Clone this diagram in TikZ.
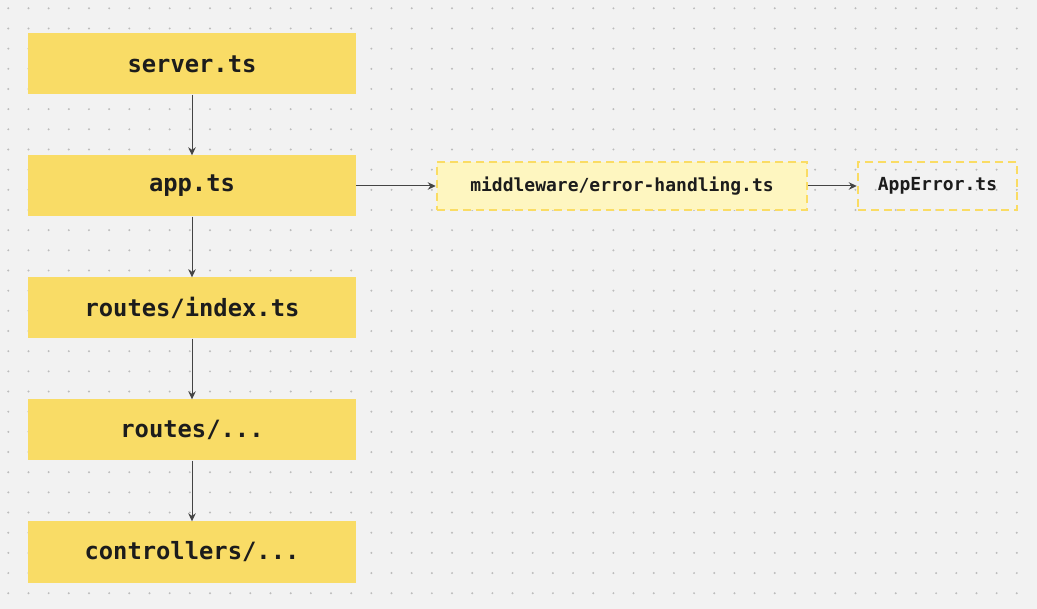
\documentclass[tikz,border=0pt]{standalone}
\usepackage{fontspec}
\setmonofont{DejaVu Sans Mono}
\usetikzlibrary{arrows.meta}
\definecolor{bgc}{RGB}{242,242,242}
\definecolor{dotc}{RGB}{188,188,188}
\definecolor{boxc}{RGB}{249,220,102}
\definecolor{lightc}{RGB}{254,246,192}
\definecolor{dashc}{RGB}{250,220,100}
\definecolor{linec}{RGB}{68,68,68}
\definecolor{txtc}{RGB}{28,28,28}
\tikzset{
  filebox/.style={fill=boxc, draw=none, minimum width=328pt, minimum height=61pt, inner sep=0pt,
    font=\fontsize{23.8}{28}\selectfont\ttfamily\bfseries, text=txtc},
  dashbox/.style={draw=dashc, line width=2.5pt, dash pattern=on 8pt off 5pt, minimum height=48pt, inner sep=0pt,
    font=\fontsize{18}{22}\selectfont\ttfamily\bfseries, text=txtc},
  conn/.style={draw=linec, line width=1pt, -{Stealth[length=8pt,width=7.5pt]}}
}
\begin{document}
\begin{tikzpicture}[x=1pt,y=-1pt]
\fill[bgc] (0,0) rectangle (1037,609);
\useasboundingbox (0,0) rectangle (1037,609);
\foreach \i in {0,...,50} {
  \foreach \j in {0,...,29} {
    \fill[dotc] ({8.3+20.17*\i},{8.3+20.17*\j}) circle (1.1pt);
  }
}
\node[filebox] (server) at (192,64) {\raisebox{-1.5pt}{server.ts}};
\node[filebox] (app) at (192,186) {\raisebox{-1.5pt}{app.ts}};
\node[filebox] (index) at (192,308) {\raisebox{-1.5pt}{routes/index.ts}};
\node[filebox] (routes) at (192,430) {\raisebox{-1.5pt}{routes/...}};
\node[filebox] (ctrl) at (192,552) {\raisebox{-1.5pt}{controllers/...}};
\node[dashbox, fill=lightc, minimum width=370pt] (mw) at (622,186) {\raisebox{-1pt}{middleware/error-handling.ts}};
\node[dashbox, minimum width=159pt] (err) at (937.5,186) {\raisebox{-1pt}{AppError.ts}};
\draw[conn] (server) -- (app);
\draw[conn] (app) -- (index);
\draw[conn] (index) -- (routes);
\draw[conn] (routes) -- (ctrl);
\draw[conn] (app) -- (mw);
\draw[conn] (mw) -- (err);
\end{tikzpicture}
\end{document}
